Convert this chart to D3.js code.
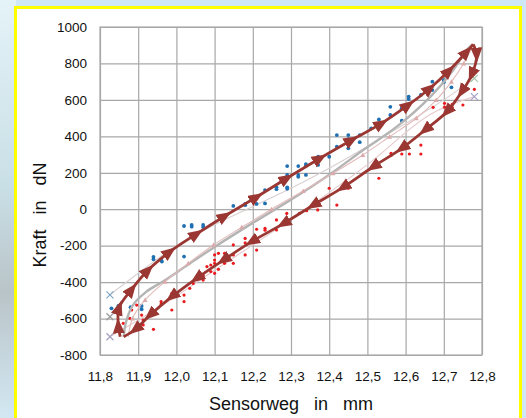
<!DOCTYPE html>
<html>
<head>
<meta charset="utf-8">
<script src="https://cdn.jsdelivr.net/npm/d3@7"></script>
<style>
  html, body { margin: 0; padding: 0; }
  body { width: 526px; height: 418px; overflow: hidden; background: #d3eaf6; }
  svg { display: block; font-family: "Liberation Sans", Arial, sans-serif; }
</style>
</head>
<body>
<svg id="chart" width="526" height="418"></svg>
<script>
// loading curve (Belastung), arrows along it
const upperX = [11.853, 11.848, 11.850, 11.883, 11.926, 11.983, 12.053, 12.127, 12.210, 12.289, 12.376, 12.459, 12.537, 12.607, 12.664, 12.714, 12.760, 12.777];
const upperF = [-700, -640, -540, -440, -334, -233, -135, -37, 67, 170, 280, 380, 471, 572, 664, 761, 864, 905];
// unloading curve (Entlastung)
const lowerX = [12.777, 12.786, 12.773, 12.747, 12.708, 12.651, 12.590, 12.515, 12.436, 12.358, 12.280, 12.197, 12.123, 12.053, 11.988, 11.931, 11.892, 11.862];
const lowerF = [905, 846, 737, 645, 535, 435, 334, 233, 120, 22, -79, -178, -279, -379, -480, -581, -660, -700];
// mean curve (thick grey)
const meanX = [11.862, 11.868, 11.885, 11.920, 11.970, 12.030, 12.105, 12.200, 12.306, 12.402, 12.489, 12.577, 12.664, 12.725, 12.760, 12.776];
const meanF = [-700, -620, -530, -455, -390, -305, -200, -75, 60, 192, 325, 453, 615, 764, 874, 905];
// pink thin series with small triangles
const pinkX = [11.874, 11.885, 11.918, 11.970, 12.031, 12.097, 12.171, 12.249, 12.332, 12.410, 12.488, 12.558, 12.628, 12.680, 12.720, 12.752, 12.776];
const pinkF = [-700, -600, -498, -398, -297, -196, -99, 0, 100, 197, 298, 398, 499, 599, 700, 800, 900];
// fit lines
const fitUpX = [11.826, 11.920, 12.000, 12.100, 12.200, 12.300, 12.400, 12.500, 12.600, 12.700, 12.780];
const fitUpF = [-470, -320, -200, -85, 15, 115, 225, 345, 470, 600, 718];
const fitLoX = [11.826, 11.950, 12.100, 12.300, 12.500, 12.664, 12.780];
const fitLoF = [-700, -545, -335, -55, 245, 520, 618];
// end crosses
const crossX = [11.826, 11.826, 11.826, 12.780, 12.780];
const crossF = [-470, -590, -700, 718, 618];
const crossColor = ["#7ea6c6", "#9a9a9a", "#a7a0c2", "#a6c4a6", "#a7a0c8"];
// measured points
const blueX = [11.830, 11.848, 11.850, 11.880, 11.909, 11.909, 11.940, 11.940, 11.960, 11.962, 12.020, 12.020, 12.040, 12.040, 12.070, 12.070, 12.149, 12.180, 12.180, 12.210, 12.232, 12.232, 12.262, 12.262, 12.290, 12.290, 12.290, 12.290, 12.319, 12.319, 12.319, 12.339, 12.339, 12.339, 12.371, 12.371, 12.400, 12.420, 12.420, 12.450, 12.450, 12.450, 12.480, 12.480, 12.510, 12.530, 12.560, 12.560, 12.590, 12.590, 12.608, 12.608, 12.640, 12.670, 12.670, 12.700, 12.700, 12.720];
const blueF = [-544, -531, -549, -538, -531, -549, -262, -275, -279, -287, -260, -92, -86, -96, -86, -98, 18, 29, 22, 29, 32, 105, 120, 110, 120, 112, 188, 237, 237, 188, 178, 248, 238, 188, 288, 243, 288, 344, 407, 407, 384, 334, 407, 368, 444, 493, 517, 562, 554, 486, 618, 605, 627, 700, 654, 709, 697, 669];
const redX = [11.861, 11.878, 11.883, 11.896, 11.909, 11.913, 11.913, 11.909, 11.940, 11.960, 11.960, 11.988, 11.988, 12.020, 12.020, 12.035, 12.044, 12.050, 12.070, 12.070, 12.080, 12.090, 12.090, 12.100, 12.100, 12.110, 12.110, 12.100, 12.100, 12.126, 12.126, 12.126, 12.149, 12.149, 12.149, 12.180, 12.180, 12.180, 12.210, 12.210, 12.210, 12.232, 12.232, 12.262, 12.262, 12.289, 12.322, 12.341, 12.370, 12.400, 12.420, 12.436, 12.450, 12.530, 12.562, 12.562, 12.590, 12.610, 12.640, 12.640, 12.672, 12.702, 12.702, 12.722, 12.722, 12.750, 12.780];
const redF = [-626, -599, -553, -526, -581, -608, -635, -654, -659, -507, -520, -553, -462, -471, -507, -434, -407, -380, -389, -362, -315, -306, -342, -279, -352, -242, -330, -251, -297, -242, -269, -297, -196, -251, -297, -251, -160, -185, -178, -224, -110, -105, -115, -114, -59, -23, -23, -8, -4, 115, 23, 115, 115, 170, 307, 295, 303, 303, 352, 303, 559, 581, 560, 559, 575, 572, 658];
const xTicks = [11.8, 11.9, 12.0, 12.1, 12.2, 12.3, 12.4, 12.5, 12.6, 12.7, 12.8];
const yTicks = [-800, -600, -400, -200, 0, 200, 400, 600, 800, 1000];

const svg = d3.select("#chart");
const plotL = 100, plotR = 482, plotT = 27, plotB = 355;

// blurry photo background hints + yellow framed panel
const defs = svg.append("defs");
const bg = defs.append("linearGradient").attr("id", "bgGrad").attr("x1", 0).attr("y1", 0).attr("x2", 0).attr("y2", 1);
bg.append("stop").attr("offset", 0).attr("stop-color", "#e4f3f8");
bg.append("stop").attr("offset", 0.45).attr("stop-color", "#c9dfe6");
bg.append("stop").attr("offset", 0.7).attr("stop-color", "#b9c4c8");
bg.append("stop").attr("offset", 1).attr("stop-color", "#d3e8f3");
svg.append("rect").attr("width", 526).attr("height", 418).attr("fill", "#cfe8f6");
svg.append("rect").attr("x", 0).attr("y", 0).attr("width", 16).attr("height", 418).attr("fill", "url(#bgGrad)");
svg.append("rect").attr("x", 15.5).attr("y", 7.5).attr("width", 505).attr("height", 420)
    .attr("fill", "#fff").attr("stroke", "#ffff00").attr("stroke-width", 3);

const x = d3.scaleLinear().domain([11.8, 12.8]).range([plotL, plotR]);
const y = d3.scaleLinear().domain([-800, 1000]).range([plotB, plotT]);
const fmtX = v => d3.format(".1f")(v).replace(".", ",");
const fmtY = v => String(v);

// grid via axes
svg.append("g")
    .attr("transform", `translate(0,${plotB})`)
    .call(d3.axisBottom(x).tickValues(xTicks).tickSize(-(plotB - plotT)).tickFormat(fmtX).tickPadding(16))
    .call(g => g.select(".domain").remove())
    .call(g => g.selectAll("line").attr("stroke", "#a8a8a8").attr("stroke-width", 1.2))
    .call(g => g.selectAll("text").attr("font-size", 13.5).attr("fill", "#111").attr("font-family", "Liberation Sans, Arial"));

svg.append("g")
    .attr("transform", `translate(${plotL},0)`)
    .call(d3.axisLeft(y).tickValues(yTicks).tickSize(-(plotR - plotL)).tickFormat(fmtY).tickPadding(13))
    .call(g => g.select(".domain").remove())
    .call(g => g.selectAll("line").attr("stroke", "#a8a8a8").attr("stroke-width", 1.2))
    .call(g => g.selectAll("text").attr("font-size", 13.5).attr("fill", "#111").attr("font-family", "Liberation Sans, Arial"));

svg.append("rect").attr("x", plotL).attr("y", plotT).attr("width", plotR - plotL).attr("height", plotB - plotT)
    .attr("fill", "none").attr("stroke", "#a8a8a8").attr("stroke-width", 1.2);

// axis titles
svg.append("text").attr("x", (plotL + plotR) / 2).attr("y", 410)
    .attr("text-anchor", "middle").attr("font-size", 18).attr("fill", "#111")
    .style("white-space", "pre").text("Sensorweg   in   mm");
svg.append("text").attr("transform", "translate(46,215) rotate(-90)")
    .attr("text-anchor", "middle").attr("font-size", 18).attr("fill", "#111")
    .style("white-space", "pre").text("Kraft   in   dN");

// markers
defs.append("marker").attr("id", "arrow")
    .attr("markerUnits", "userSpaceOnUse").attr("markerWidth", 16).attr("markerHeight", 13)
    .attr("refX", 7.5).attr("refY", 6).attr("orient", "auto")
  .append("path").attr("d", "M0,0 L15,6 L0,12 Z").attr("fill", "#9b3732");
defs.append("marker").attr("id", "tri")
    .attr("markerUnits", "userSpaceOnUse").attr("markerWidth", 6).attr("markerHeight", 6)
    .attr("refX", 3).attr("refY", 3)
  .append("path").attr("d", "M3,0.5 L5.5,5 L0.5,5 Z").attr("fill", "#dcaaaa");

const line = d3.line().x(d => x(d[0])).y(d => y(d[1])).curve(d3.curveCatmullRom.alpha(0.5));
const zipPts = (xs, fs) => xs.map((v, i) => [v, fs[i]]);

// thin fit lines
svg.append("path").attr("d", line(zipPts(fitUpX, fitUpF)))
    .attr("fill", "none").attr("stroke", "#d9d0d0").attr("stroke-width", 1.1);
svg.append("path").attr("d", line(zipPts(fitLoX, fitLoF)))
    .attr("fill", "none").attr("stroke", "#e6cacd").attr("stroke-width", 1.1);

// measured points
svg.append("g").selectAll("circle").data(zipPts(blueX, blueF)).join("circle")
    .attr("cx", d => x(d[0])).attr("cy", d => y(d[1])).attr("r", 1.9).attr("fill", "#1f70b2");
svg.append("g").selectAll("circle").data(zipPts(redX, redF)).join("circle")
    .attr("cx", d => x(d[0])).attr("cy", d => y(d[1])).attr("r", 1.6).attr("fill", "#ea1a1e");

// mean curves
svg.append("path").attr("d", line(zipPts(meanX, meanF)))
    .attr("fill", "none").attr("stroke", "#b4b4b4").attr("stroke-width", 2.4);
svg.append("path").attr("d", line(zipPts(pinkX, pinkF)))
    .attr("fill", "none").attr("stroke", "#e3baba").attr("stroke-width", 1.1)
    .attr("marker-mid", "url(#tri)");

// crosses at fit ends
svg.append("g").selectAll("path").data(crossX.map((v, i) => [v, crossF[i], crossColor[i]])).join("path")
    .attr("d", d => {
        const cx = x(d[0]), cy = y(d[1]), r = 3.5;
        return `M${cx - r},${cy - r}L${cx + r},${cy + r}M${cx - r},${cy + r}L${cx + r},${cy - r}`;
    })
    .attr("stroke", d => d[2]).attr("stroke-width", 1.2).attr("fill", "none");

// hysteresis loop with direction arrows
[[upperX, upperF], [lowerX, lowerF]].forEach(([xs, fs]) => {
    svg.append("path").attr("d", line(zipPts(xs, fs)))
        .attr("fill", "none").attr("stroke", "#9b3732").attr("stroke-width", 2.8)
        .attr("marker-mid", "url(#arrow)");
});
</script>
</body>
</html>
